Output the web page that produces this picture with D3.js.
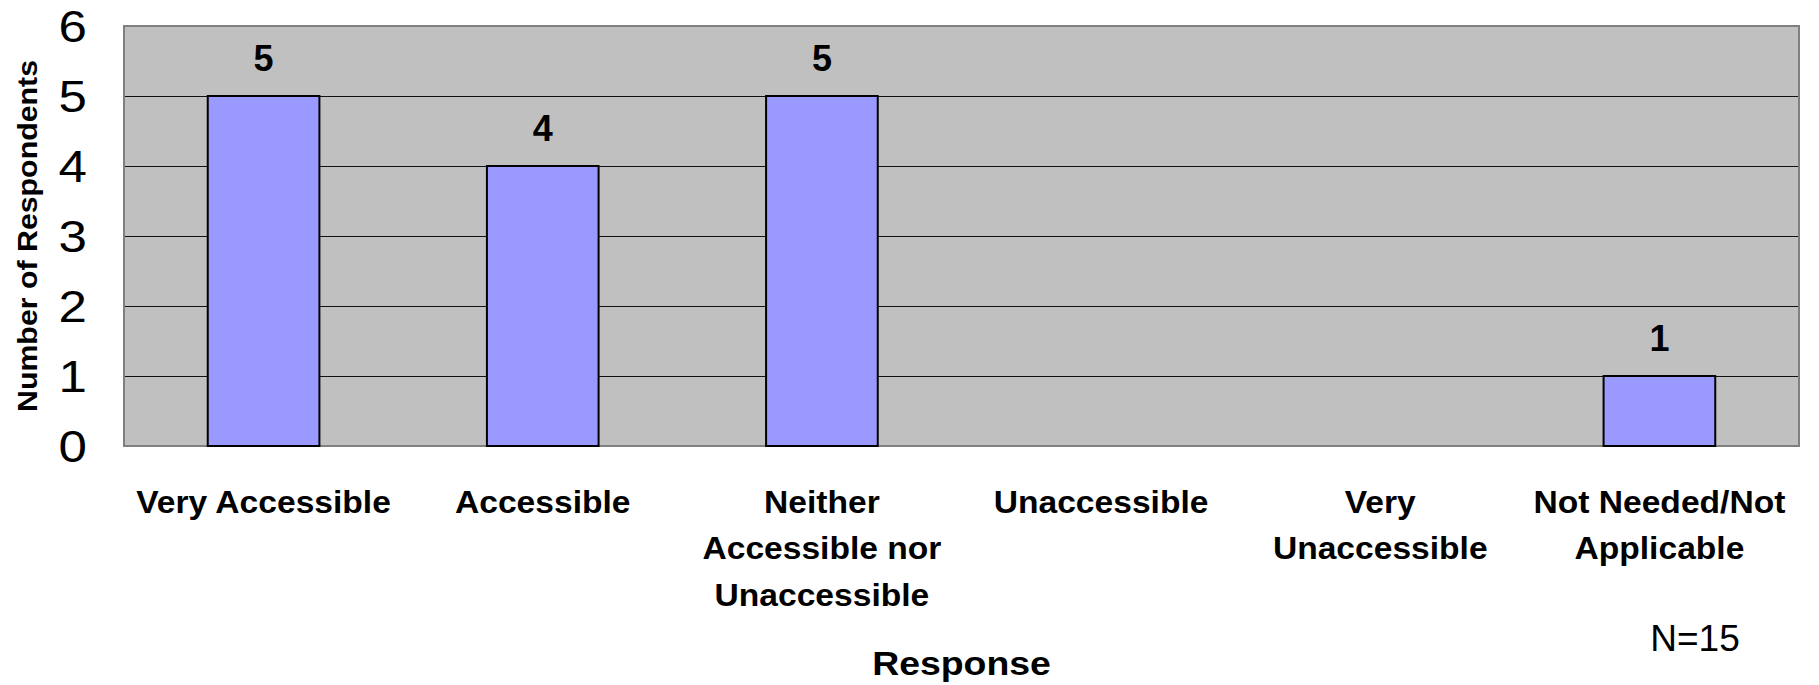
<!DOCTYPE html>
<html>
<head>
<meta charset="utf-8">
<script src="https://cdn.jsdelivr.net/npm/d3@7"></script>
<style>
  html, body { margin: 0; padding: 0; background: #ffffff; }
  svg { display: block; }
  text { font-family: "Liberation Sans", Arial, sans-serif; fill: #000; }
</style>
</head>
<body>
<svg id="chart" width="1819" height="685"></svg>
<script>
const categories = [
  "Very Accessible",
  "Accessible",
  "Neither Accessible nor Unaccessible",
  "Unaccessible",
  "Very Unaccessible",
  "Not Needed/Not Applicable"
];
const values = [5, 4, 5, 0, 0, 1];
const yTicks = [0, 1, 2, 3, 4, 5, 6];
const yTitle = "Number of Respondents";
const xTitle = "Response";
const noteText = "N=15";

const svg = d3.select("#chart");
const plot = { left: 124, right: 1799, top: 26, bottom: 446 };
const SX = 1.05;

const x = d3.scaleBand()
  .domain(categories)
  .range([plot.left, plot.right])
  .paddingInner(0.6)
  .paddingOuter(0.3);

const y = d3.scaleLinear().domain([0, 6]).range([plot.bottom, plot.top]);

// plot background
svg.append("rect")
  .attr("x", plot.left).attr("y", plot.top)
  .attr("width", plot.right - plot.left).attr("height", plot.bottom - plot.top)
  .attr("fill", "#C0C0C0");

// gridlines
const grid = svg.append("g")
  .attr("transform", `translate(${plot.left},0)`)
  .call(d3.axisLeft(y).tickValues(yTicks.filter(t => t > 0 && t < 6)).tickSize(-(plot.right - plot.left)).tickFormat(""));
grid.select(".domain").remove();
grid.selectAll("line").attr("stroke", "#111").attr("stroke-width", 1).attr("shape-rendering", "crispEdges");

// plot border
svg.append("rect")
  .attr("x", plot.left).attr("y", plot.top)
  .attr("width", plot.right - plot.left).attr("height", plot.bottom - plot.top)
  .attr("fill", "none").attr("stroke", "#808080").attr("stroke-width", 2);

// bars
const data = categories.map((c, i) => ({ c, v: values[i] }));
svg.append("g").selectAll("rect")
  .data(data.filter(d => d.v > 0))
  .join("rect")
  .attr("x", d => x(d.c))
  .attr("y", d => y(d.v))
  .attr("width", x.bandwidth())
  .attr("height", d => y(0) - y(d.v))
  .attr("fill", "#9999FF")
  .attr("stroke", "#000")
  .attr("stroke-width", 2);

// value labels
svg.append("g").selectAll("text")
  .data(data.filter(d => d.v > 0))
  .join("text")
  .attr("x", d => x(d.c) + x.bandwidth() / 2)
  .attr("y", d => y(d.v) - 25)
  .attr("text-anchor", "middle")
  .attr("font-weight", "bold")
  .attr("font-size", 36)
  .text(d => d.v);

// y axis labels
const yAxis = svg.append("g")
  .attr("transform", `translate(${plot.left},0)`)
  .call(d3.axisLeft(y).tickValues(yTicks).tickSize(0).tickFormat(d3.format("d")));
yAxis.select(".domain").remove();
yAxis.selectAll("text")
  .attr("x", 0).attr("dy", 0)
  .attr("transform", `translate(-37,15.5) scale(1.16,1)`)
  .attr("text-anchor", "end")
  .attr("font-family", null)
  .attr("font-size", 44);

// x axis labels with wrapping
const xAxis = svg.append("g")
  .attr("transform", `translate(0,${plot.bottom})`)
  .call(d3.axisBottom(x).tickSize(0));
xAxis.select(".domain").remove();
const maxW = x.step() / SX;
xAxis.selectAll("text")
  .attr("y", 0).attr("dy", 0)
  .attr("font-family", null)
  .attr("font-size", 32)
  .attr("font-weight", "bold")
  .attr("text-anchor", "middle")
  .attr("transform", `scale(${SX},1)`)
  .each(function () {
    const t = d3.select(this);
    const words = t.text().split(/\s+/);
    t.text(null);
    const lines = [];
    let line = [];
    let tspan = t.append("tspan").attr("x", 0);
    words.forEach(w => {
      line.push(w);
      tspan.text(line.join(" "));
      if (tspan.node().getComputedTextLength() > maxW && line.length > 1) {
        line.pop();
        lines.push(line.join(" "));
        line = [w];
        tspan.text(w);
      }
    });
    lines.push(line.join(" "));
    t.text(null);
    lines.forEach((l, i) => {
      t.append("tspan").attr("x", 0).attr("y", 67 + i * 46.5).text(l);
    });
  });

// y title
svg.append("text")
  .attr("transform", `translate(37,${(plot.top + plot.bottom) / 2}) rotate(-90)`)
  .attr("text-anchor", "middle")
  .attr("font-weight", "bold")
  .attr("font-size", 27)
  .attr("textLength", 352)
  .attr("lengthAdjust", "spacingAndGlyphs")
  .text(yTitle);

// x title
svg.append("text")
  .attr("transform", `translate(${(plot.left + plot.right) / 2},675) scale(1.1,1)`)
  .attr("text-anchor", "middle")
  .attr("font-weight", "bold")
  .attr("font-size", 34)
  .text(xTitle);

// note
svg.append("text")
  .attr("x", 1695).attr("y", 651)
  .attr("text-anchor", "middle")
  .attr("font-size", 37)
  .text(noteText);
</script>
</body>
</html>
